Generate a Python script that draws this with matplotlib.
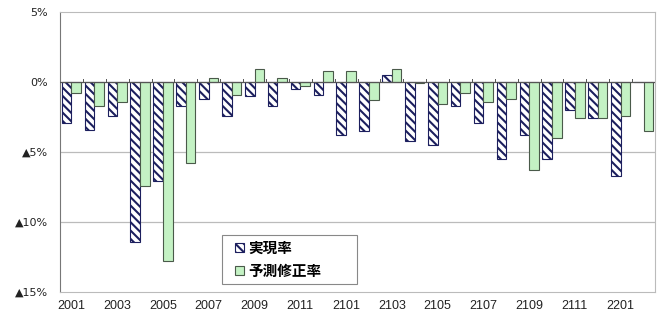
import numpy as np
import matplotlib
matplotlib.use('Agg')
import matplotlib.pyplot as plt
from matplotlib.patches import Rectangle

plt.rcParams['font.family'] = ['Noto Sans CJK JP', 'DejaVu Sans']
plt.rcParams['hatch.linewidth'] = 1.5

# 月 (YYMM)
months = ['2001', '2002', '2003', '2004', '2005', '2006', '2007', '2008', '2009', '2010', '2011', '2012',
          '2101', '2102', '2103', '2104', '2105', '2106', '2107', '2108', '2109', '2110', '2111', '2112',
          '2201', '2202']
# 実現率 (%)
jitsugen = [-2.9, -3.4, -2.4, -11.4, -7.1, -1.7, -1.2, -2.4, -1.0, -1.7, -0.5, -0.9,
            -3.8, -3.5, 0.5, -4.2, -4.5, -1.7, -2.9, -5.5, -3.8, -5.5, -2.0, -2.6,
            -6.7, 0.0]
# 予測修正率 (%)
yosoku = [-0.8, -1.7, -1.4, -7.4, -12.8, -5.8, 0.3, -0.9, 0.9, 0.3, -0.3, 0.8,
          0.8, -1.3, 0.9, -0.1, -1.6, -0.8, -1.4, -1.2, -6.3, -4.0, -2.6, -2.6,
          -2.4, -3.5]
ytick_vals = [5, 0, -5, -10, -15]
ytick_labels = ['5%', '0%', '▲5%', '▲10%', '▲15%']

fig = plt.figure(figsize=(6.66, 3.11), dpi=100)
ax = fig.add_axes([60 / 666, (311 - 292) / 311, 595 / 666, 280 / 311])

x = np.arange(len(months))
w = 0.42
ax.bar(x - w / 2, jitsugen, width=w, color='white', edgecolor='#1c1f5e',
       hatch='\\\\\\\\', linewidth=0.8, label='実現率', zorder=3)
ax.bar(x + w / 2, yosoku, width=w, color='#c4f2c4', edgecolor='#4a5a4a',
       linewidth=0.8, label='予測修正率', zorder=3)

ax.set_xlim(-0.5, len(months) - 0.5)
ax.set_ylim(-15, 5)
ax.set_yticks(ytick_vals)
ax.set_yticklabels(ytick_labels, fontsize=8, color='#222222', family='DejaVu Sans')
ax.tick_params(axis='y', length=0, pad=8.5)

# 横グリッド
for v in [-5, -10]:
    ax.axhline(v, color='#bbbbbb', linewidth=0.9, zorder=1)
ax.axhline(0, color='#555555', linewidth=0.9, zorder=4)
# 0%線上の区切り目盛り
for b in np.arange(0.5, len(months) - 0.5, 1):
    ax.plot([b, b], [0, 0.25], color='#555555', linewidth=0.7, zorder=4)

ax.set_xticks(x[::2])
ax.set_xticklabels(months[::2], fontsize=9, color='#222222',
                   family=['Liberation Sans', 'DejaVu Sans'])
ax.tick_params(axis='x', length=0, pad=6)

for s in ['top', 'right']:
    ax.spines[s].set_color('#bbbbbb')
ax.spines['left'].set_color('#777777')
ax.spines['bottom'].set_color('#bbbbbb')

# 凡例の枠
ax.add_patch(Rectangle((0.272, 0.029), 0.227, 0.175, transform=ax.transAxes,
                       facecolor='white', edgecolor='#888888', linewidth=0.8, zorder=5))
leg = ax.legend(loc='center left', bbox_to_anchor=(0.294, 0.117), fontsize=10.5,
                frameon=False, handlelength=0.6, handleheight=0.6, handletextpad=0.3,
                borderpad=0, labelspacing=0.45, borderaxespad=0)
leg.set_zorder(6)
for t in leg.get_texts():
    t.set_fontweight('bold')

fig.savefig('out.png', dpi=100)
